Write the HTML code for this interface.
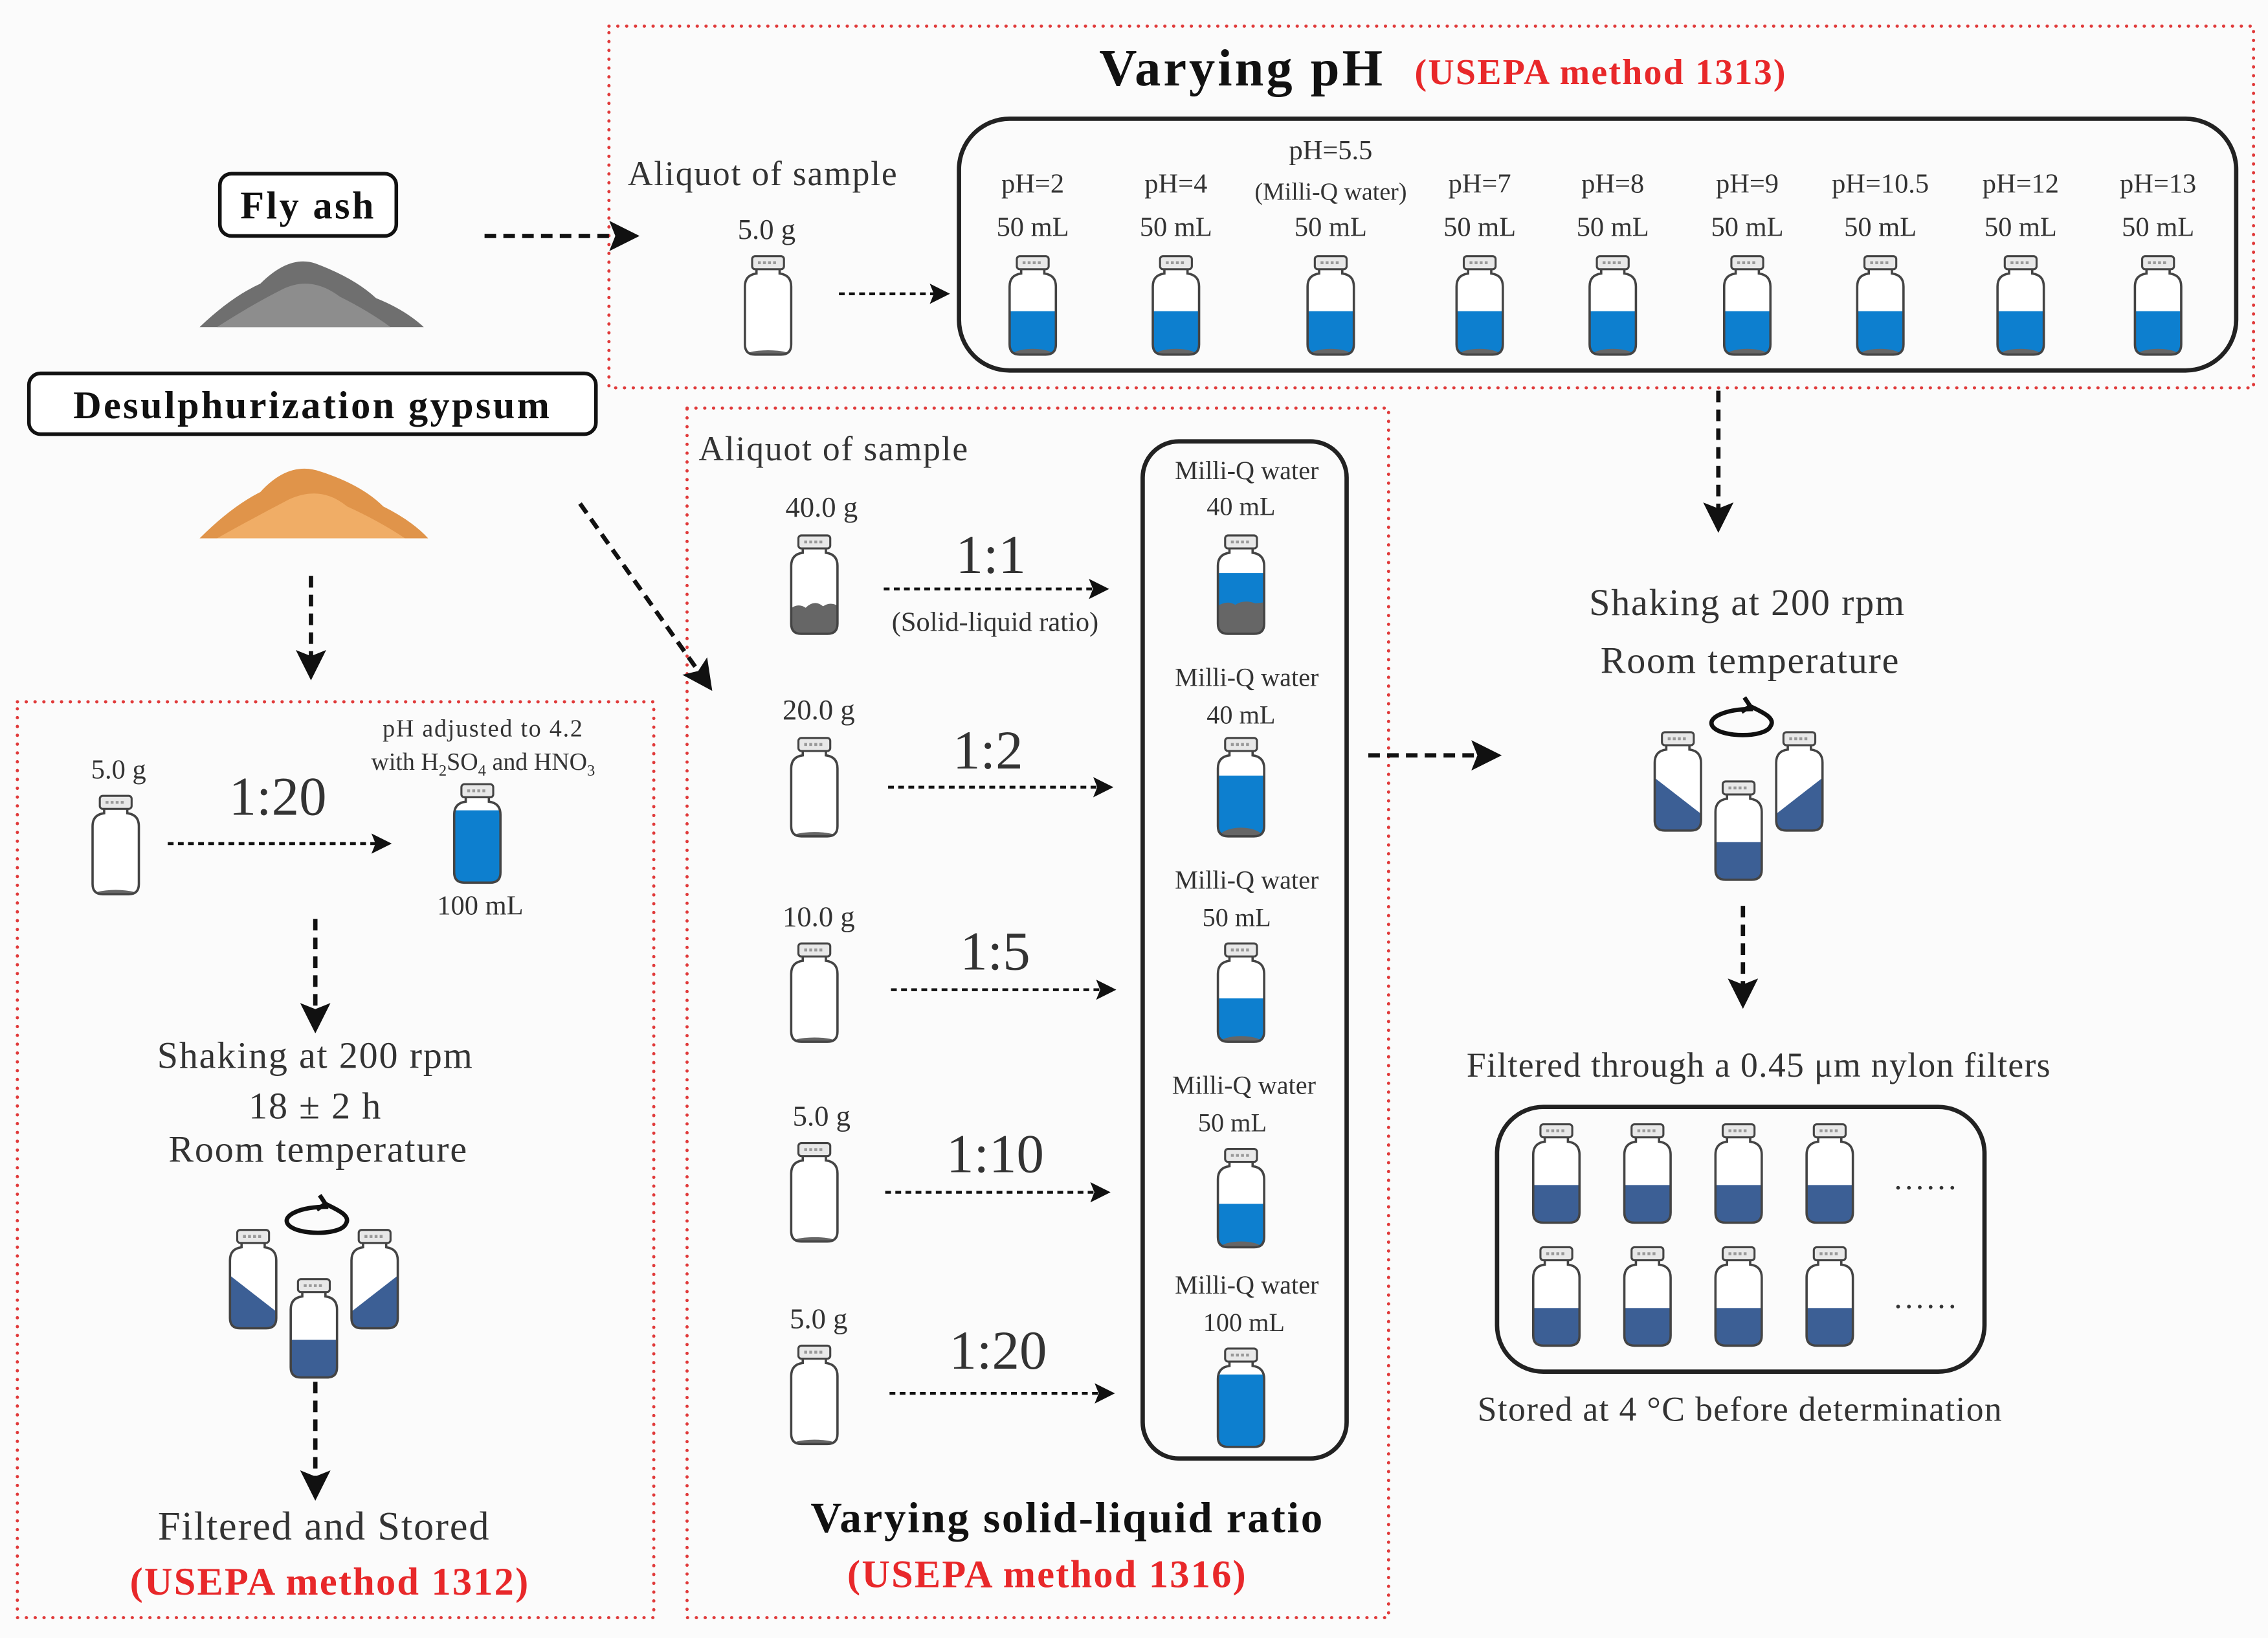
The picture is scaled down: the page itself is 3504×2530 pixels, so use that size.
<!DOCTYPE html>
<html><head><meta charset="utf-8"><style>
html,body{margin:0;padding:0;background:#fbfbfb;}
svg{display:block;font-family:"Liberation Serif",serif}
text,tspan{font-family:"Liberation Serif",serif !important;fill:#333}
.b{font-weight:bold;fill:#111}
.r{fill:#e8282a;font-weight:bold}
</style></head><body>
<svg width="3504" height="2530" viewBox="0 0 1568 1132" xmlns="http://www.w3.org/2000/svg" font-family="Liberation Serif, serif">
<defs>
<marker id="ah2" viewBox="0 0 10 10" refX="8" refY="5" markerWidth="7" markerHeight="7" orient="auto" markerUnits="strokeWidth"><path d="M0,0 L10,5 L0,10 L2,5Z" fill="#111"/></marker>
<path id="bp" d="M10,10 L10,14 Q2,15 2,23 L2,63 Q2,70 9,70 L27,70 Q34,70 34,63 L34,23 Q34,15 26,14 L26,10 Z"/>
<clipPath id="cl"><use href="#bp"/></clipPath>
<g id="cap"><rect x="7" y="2" width="22" height="9" rx="2" fill="#e8e8e8" stroke="#444" stroke-width="1.4"/><line x1="11" y1="6.5" x2="25" y2="6.5" stroke="#999" stroke-width="2" stroke-dasharray="2 1.5"/></g>
<g id="be"><use href="#bp" fill="#fff"/><g clip-path="url(#cl)"><ellipse cx="18" cy="72" rx="18" ry="5" fill="#666"/></g><use href="#bp" fill="none" stroke="#444" stroke-width="1.6"/><use href="#cap"/></g>
<g id="be2"><use href="#bp" fill="#fff"/><g clip-path="url(#cl)"><path d="M0,54 Q6,48 12,52 Q18,46 24,51 Q30,47 36,52 L36,72 L0,72Z" fill="#666"/></g><use href="#bp" fill="none" stroke="#444" stroke-width="1.6"/><use href="#cap"/></g>
<g id="bb"><use href="#bp" fill="#fff"/><g clip-path="url(#cl)"><rect x="0" y="40" width="36" height="32" fill="#0d7fcf"/><ellipse cx="18" cy="72" rx="16" ry="6" fill="#666"/></g><use href="#bp" fill="none" stroke="#444" stroke-width="1.6"/><use href="#cap"/></g>
<g id="bb1"><use href="#bp" fill="#fff"/><g clip-path="url(#cl)"><rect x="0" y="28" width="36" height="44" fill="#0d7fcf"/><path d="M0,52 Q8,46 14,50 Q20,46 28,49 L36,48 L36,72 L0,72Z" fill="#666"/></g><use href="#bp" fill="none" stroke="#444" stroke-width="1.6"/><use href="#cap"/></g>
<g id="bb2"><use href="#bp" fill="#fff"/><g clip-path="url(#cl)"><rect x="0" y="28" width="36" height="44" fill="#0d7fcf"/><ellipse cx="18" cy="72" rx="16" ry="8" fill="#666"/></g><use href="#bp" fill="none" stroke="#444" stroke-width="1.6"/><use href="#cap"/></g>
<g id="bf"><use href="#bp" fill="#fff"/><g clip-path="url(#cl)"><rect x="0" y="20" width="36" height="52" fill="#0d7fcf"/></g><use href="#bp" fill="none" stroke="#444" stroke-width="1.6"/><use href="#cap"/></g>
<g id="bd"><use href="#bp" fill="#fff"/><g clip-path="url(#cl)"><rect x="0" y="44" width="36" height="28" fill="#3c5f95"/></g><use href="#bp" fill="none" stroke="#444" stroke-width="1.6"/><use href="#cap"/></g>
<g id="bl"><use href="#bp" fill="#fff"/><g clip-path="url(#cl)"><path d="M0,32 L36,60 L36,72 L0,72Z" fill="#3c5f95"/></g><use href="#bp" fill="none" stroke="#444" stroke-width="1.6"/><use href="#cap"/></g>
<g id="br"><use href="#bp" fill="#fff"/><g clip-path="url(#cl)"><path d="M36,32 L0,60 L0,72 L36,72Z" fill="#3c5f95"/></g><use href="#bp" fill="none" stroke="#444" stroke-width="1.6"/><use href="#cap"/></g>
<g id="shake">
<use href="#bl" x="0" y="0"/><use href="#br" x="84" y="0"/><use href="#bd" x="42" y="34"/>
<path d="M70,-14 C50,-14 38,-8 42,-2 C48,6 78,6 82,-2 C86,-8 76,-12 68,-16" fill="none" stroke="#111" stroke-width="3"/>
<path d="M64,-22 L68,-16 L62,-12" fill="none" stroke="#111" stroke-width="3"/>
</g>
</defs>

<rect width="1568" height="1132" fill="#fbfbfb"/>
<g fill="none" stroke="#e03a3a" stroke-width="2.2" stroke-dasharray="0.1 6" stroke-linecap="round">
<rect x="421" y="18" width="1137" height="250"/>
<rect x="12" y="485" width="440" height="633"/>
<rect x="475" y="282" width="485" height="836"/>
</g>

<rect x="152" y="120" width="122" height="43" rx="8" fill="#fff" stroke="#111" stroke-width="2.5"/>
<text x="213" y="151" class="b" font-size="27" text-anchor="middle" letter-spacing="1.5">Fly ash</text>
<path d="M138,226 Q160,205 180,196 Q200,176 218,182 Q245,192 260,206 Q280,214 293,226Z" fill="#6f6f6f"/>
<path d="M150,226 Q175,210 195,200 Q215,190 235,205 Q255,215 270,226Z" fill="#8d8d8d"/>
<rect x="20" y="258" width="392" height="42" rx="8" fill="#fff" stroke="#111" stroke-width="2.5"/>
<text x="216" y="289" class="b" font-size="27" text-anchor="middle" letter-spacing="1.5">Desulphurization gypsum</text>
<path d="M138,372 Q160,350 180,340 Q200,318 222,326 Q250,335 265,350 Q285,360 296,372Z" fill="#e0944a"/>
<path d="M150,372 Q175,358 200,345 Q222,335 240,350 Q262,360 280,372Z" fill="#f0ad66"/>

<g stroke="#111" stroke-width="3" stroke-dasharray="8 5" fill="none" marker-end="url(#ah2)">
<line x1="335" y1="163" x2="438" y2="163"/>
<line x1="401" y1="348" x2="490" y2="474"/>
<line x1="215" y1="398" x2="215" y2="466"/>
<line x1="1188" y1="270" x2="1188" y2="364"/>
<line x1="1205" y1="626" x2="1205" y2="693"/>
<line x1="946" y1="522" x2="1034" y2="522"/>
<line x1="218" y1="635" x2="218" y2="710"/>
<line x1="218" y1="955" x2="218" y2="1033"/>
</g>
<g stroke="#111" stroke-width="2" stroke-dasharray="4 3" fill="none" marker-end="url(#ah2)">
<line x1="580" y1="203" x2="654" y2="203"/>
<line x1="611" y1="407" x2="764" y2="407"/>
<line x1="614" y1="544" x2="767" y2="544"/>
<line x1="616" y1="684" x2="769" y2="684"/>
<line x1="612" y1="824" x2="765" y2="824"/>
<line x1="615" y1="963" x2="768" y2="963"/>
<line x1="116" y1="583" x2="268" y2="583"/>
</g>

<text x="760" y="59" class="b" font-size="36" letter-spacing="1.8">Varying pH</text>
<text x="978" y="58" class="r" font-size="25" letter-spacing="1">(USEPA method 1313)</text>
<text x="434" y="128" font-size="24" letter-spacing="0.8">Aliquot of sample</text>
<text x="530" y="165" font-size="20" text-anchor="middle">5.0 g</text>
<use href="#be" x="513" y="175"/>
<rect x="663" y="82" width="883" height="174" rx="35" fill="none" stroke="#222" stroke-width="3"/>
<g font-size="19" text-anchor="middle">
<text x="714" y="133">pH=2</text><text x="714" y="163">50 mL</text>
<text x="813" y="133">pH=4</text><text x="813" y="163">50 mL</text>
<text x="920" y="110">pH=5.5</text><text x="920" y="138" font-size="17">(Milli-Q water)</text><text x="920" y="163">50 mL</text>
<text x="1023" y="133">pH=7</text><text x="1023" y="163">50 mL</text>
<text x="1115" y="133">pH=8</text><text x="1115" y="163">50 mL</text>
<text x="1208" y="133">pH=9</text><text x="1208" y="163">50 mL</text>
<text x="1300" y="133">pH=10.5</text><text x="1300" y="163">50 mL</text>
<text x="1397" y="133">pH=12</text><text x="1397" y="163">50 mL</text>
<text x="1492" y="133">pH=13</text><text x="1492" y="163">50 mL</text>
</g>
<use href="#bb" x="696" y="175"/><use href="#bb" x="795" y="175"/><use href="#bb" x="902" y="175"/>
<use href="#bb" x="1005" y="175"/><use href="#bb" x="1097" y="175"/><use href="#bb" x="1190" y="175"/>
<use href="#bb" x="1282" y="175"/><use href="#bb" x="1379" y="175"/><use href="#bb" x="1474" y="175"/>

<g font-size="26" text-anchor="middle" letter-spacing="0.8">
<text x="1208" y="425">Shaking at 200 rpm</text>
<text x="1210" y="465">Room temperature</text>
</g>
<use href="#shake" x="1142" y="504"/>
<text x="1216" y="744" font-size="24" text-anchor="middle" letter-spacing="0.6">Filtered through a 0.45 μm nylon filters</text>
<rect x="1035" y="765" width="337" height="183" rx="32" fill="none" stroke="#222" stroke-width="3"/>
<use href="#bd" x="1058" y="775"/><use href="#bd" x="1121" y="775"/><use href="#bd" x="1184" y="775"/><use href="#bd" x="1247" y="775"/>
<use href="#bd" x="1058" y="860"/><use href="#bd" x="1121" y="860"/><use href="#bd" x="1184" y="860"/><use href="#bd" x="1247" y="860"/>
<text x="1332" y="822" font-size="22" text-anchor="middle" letter-spacing="2">......</text>
<text x="1332" y="904" font-size="22" text-anchor="middle" letter-spacing="2">......</text>
<text x="1203" y="982" font-size="24" text-anchor="middle" letter-spacing="0.6">Stored at 4 °C before determination</text>

<text x="483" y="318" font-size="24" letter-spacing="0.8">Aliquot of sample</text>
<g font-size="20" text-anchor="middle">
<text x="568" y="357">40.0 g</text><text x="566" y="497">20.0 g</text><text x="566" y="640">10.0 g</text>
<text x="568" y="778">5.0 g</text><text x="566" y="918">5.0 g</text>
</g>
<use href="#be2" x="545" y="368"/><use href="#be" x="545" y="508"/><use href="#be" x="545" y="650"/>
<use href="#be" x="545" y="788"/><use href="#be" x="545" y="928"/>
<g font-size="38" text-anchor="middle">
<text x="685" y="396">1:1</text><text x="683" y="531">1:2</text><text x="688" y="670">1:5</text>
<text x="688" y="810">1:10</text><text x="690" y="946">1:20</text>
</g>
<text x="688" y="436" font-size="19" text-anchor="middle">(Solid-liquid ratio)</text>
<rect x="790" y="305" width="141" height="703" rx="25" fill="none" stroke="#222" stroke-width="3"/>
<g font-size="18" text-anchor="middle">
<text x="862" y="331">Milli-Q water</text><text x="858" y="356">40 mL</text>
<text x="862" y="474">Milli-Q water</text><text x="858" y="500">40 mL</text>
<text x="862" y="614">Milli-Q water</text><text x="855" y="640">50 mL</text>
<text x="860" y="756">Milli-Q water</text><text x="852" y="782">50 mL</text>
<text x="862" y="894">Milli-Q water</text><text x="860" y="920">100 mL</text>
</g>
<use href="#bb1" x="840" y="368"/><use href="#bb2" x="840" y="508"/><use href="#bb" x="840" y="650"/>
<use href="#bb" x="840" y="792"/><use href="#bf" x="840" y="930"/>
<text x="738" y="1059" class="b" font-size="30" text-anchor="middle" letter-spacing="1.2">Varying solid-liquid ratio</text>
<text x="724" y="1097" class="r" font-size="27" text-anchor="middle" letter-spacing="1">(USEPA method 1316)</text>

<text x="82" y="538" font-size="19" text-anchor="middle">5.0 g</text>
<use href="#be" x="62" y="548"/>
<text x="192" y="563" font-size="38" text-anchor="middle">1:20</text>
<text x="334" y="509" font-size="17" text-anchor="middle" letter-spacing="0.8">pH adjusted to 4.2</text>
<text x="334" y="532" font-size="17" text-anchor="middle">with H<tspan font-size="11" dy="4">2</tspan><tspan dy="-4">SO</tspan><tspan font-size="11" dy="4">4</tspan><tspan dy="-4"> and HNO</tspan><tspan font-size="11" dy="4">3</tspan></text>
<use href="#bf" x="312" y="540"/>
<text x="332" y="632" font-size="19" text-anchor="middle">100 mL</text>
<g font-size="26" text-anchor="middle" letter-spacing="0.8">
<text x="218" y="738">Shaking at 200 rpm</text>
<text x="218" y="773">18 ± 2 h</text>
<text x="220" y="803">Room temperature</text>
</g>
<use href="#shake" x="157" y="848"/>
<text x="224" y="1064" font-size="28" text-anchor="middle" letter-spacing="0.8">Filtered and Stored</text>
<text x="228" y="1102" class="r" font-size="27" text-anchor="middle" letter-spacing="1">(USEPA method 1312)</text>
</svg>
</body></html>
